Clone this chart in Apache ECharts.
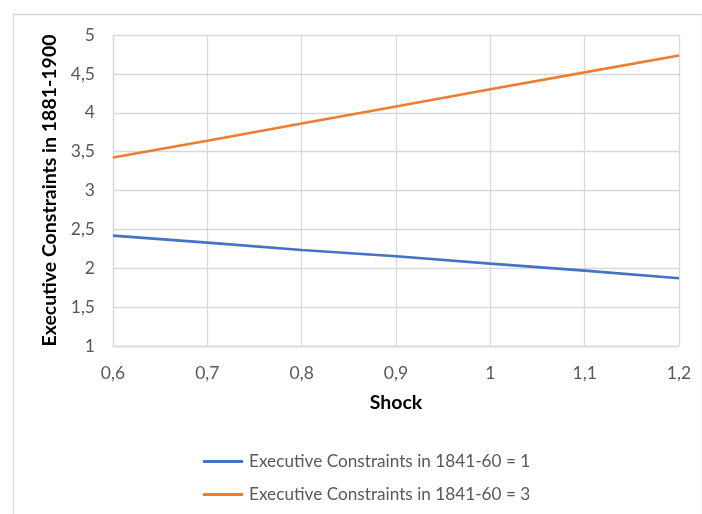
<!DOCTYPE html>
<html>
<head>
<meta charset="utf-8">
<script src="https://cdn.jsdelivr.net/npm/echarts@6/dist/echarts.min.js"></script>
<style>
  html, body { margin: 0; padding: 0; background: #fff; }
  #chart { width: 702px; height: 514px; }
</style>
</head>
<body>
<div id="chart"></div>
<script>
// Shock levels (x categories) and predicted executive constraints
const shockLabels = ['0,6', '0,7', '0,8', '0,9', '1', '1,1', '1,2'];
const constraintsLow = [2.42, 2.33, 2.235, 2.155, 2.06, 1.97, 1.872];
const constraintsHigh = [3.425, 3.64, 3.862, 4.081, 4.303, 4.519, 4.737];
const seriesNames = ['Executive Constraints in 1841-60 = 1', 'Executive Constraints in 1841-60 = 3'];

const FONT = 'Lato, "Open Sans", sans-serif';
const GRID_COLOR = '#d9d9d9';
const TEXT_COLOR = '#595959';

const chart = echarts.init(document.getElementById('chart'), null, { renderer: 'canvas' });

chart.setOption({
  animation: false,
  backgroundColor: '#ffffff',
  graphic: [{
    type: 'rect',
    left: 11, top: 12,
    shape: { width: 689, height: 520 },
    style: { fill: 'none', stroke: GRID_COLOR, lineWidth: 1.3 },
    silent: true,
    z: -1
  }],
  grid: { left: 113, right: 23, top: 35, bottom: 168, containLabel: false },
  xAxis: {
    type: 'category',
    data: shockLabels,
    boundaryGap: false,
    name: 'Shock',
    nameLocation: 'middle',
    nameGap: 47,
    nameTextStyle: { fontFamily: FONT, fontSize: 19.5, fontWeight: 'bold', color: '#000' },
    axisLine: { show: true, lineStyle: { color: GRID_COLOR, width: 1.3 } },
    axisTick: { show: false },
    axisLabel: { color: TEXT_COLOR, fontFamily: FONT, fontSize: 17.5, margin: 18 },
    splitLine: { show: true, lineStyle: { color: GRID_COLOR, width: 1.3 } }
  },
  yAxis: {
    type: 'value',
    min: 1, max: 5, interval: 0.5,
    name: 'Executive Constraints in 1881-1900',
    nameLocation: 'middle',
    nameGap: 51,
    nameRotate: 90,
    nameTextStyle: { fontFamily: FONT, fontSize: 19.5, fontWeight: 'bold', color: '#000' },
    axisLine: { show: true, lineStyle: { color: GRID_COLOR, width: 1.3 } },
    axisTick: { show: false },
    axisLabel: {
      color: TEXT_COLOR, fontFamily: FONT, fontSize: 17.5, margin: 18,
      formatter: v => String(+v.toFixed(1)).replace('.', ',')
    },
    splitLine: { show: true, lineStyle: { color: GRID_COLOR, width: 1.3 } }
  },
  legend: {
    orient: 'vertical',
    left: 198,
    top: 448,
    itemWidth: 40,
    itemHeight: 3,
    itemGap: 16,
    icon: 'rect',
    textStyle: { color: TEXT_COLOR, fontFamily: FONT, fontSize: 17.2, padding: [0, 0, 0, 1] },
    data: seriesNames
  },
  series: [
    {
      name: seriesNames[0],
      type: 'line',
      data: constraintsLow,
      symbol: 'none',
      lineStyle: { color: '#4472C4', width: 2.6 },
      itemStyle: { color: '#4472C4' }
    },
    {
      name: seriesNames[1],
      type: 'line',
      data: constraintsHigh,
      symbol: 'none',
      lineStyle: { color: '#ED7D31', width: 2.6 },
      itemStyle: { color: '#ED7D31' }
    }
  ]
});
</script>
</body>
</html>
